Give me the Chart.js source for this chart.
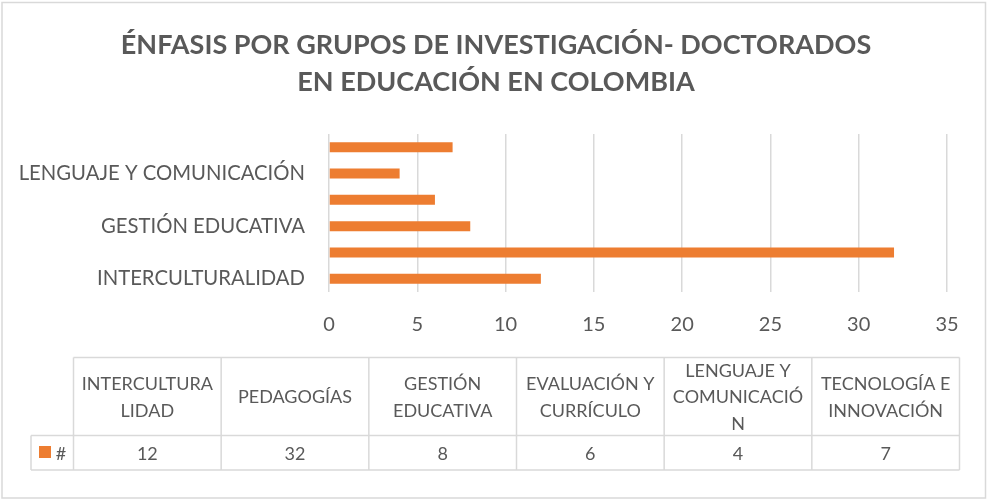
<!DOCTYPE html>
<html>
<head>
<meta charset="utf-8">
<script src="https://cdn.jsdelivr.net/npm/chart.js@4/dist/chart.umd.min.js"></script>
<style>
  html, body { margin: 0; padding: 0; background: #fff; }
  #c { display: block; }
</style>
</head>
<body>
<canvas id="c" width="987" height="500"></canvas>
<script>
// ---- data ----
const titleLines = ['ÉNFASIS POR GRUPOS DE INVESTIGACIÓN- DOCTORADOS', 'EN EDUCACIÓN EN COLOMBIA'];
const categories = ['INTERCULTURALIDAD', 'PEDAGOGÍAS', 'GESTIÓN EDUCATIVA', 'EVALUACIÓN Y CURRÍCULO', 'LENGUAJE Y COMUNICACIÓN', 'TECNOLOGÍA E INNOVACIÓN'];
const counts = [12, 32, 8, 6, 4, 7];
const seriesName = '#';
const tableHeaders = ['INTERCULTURA\nLIDAD', 'PEDAGOGÍAS', 'GESTIÓN\nEDUCATIVA', 'EVALUACIÓN Y\nCURRÍCULO', 'LENGUAJE Y\nCOMUNICACIÓ\nN', 'TECNOLOGÍA E\nINNOVACIÓN'];
const xMin = 0, xMax = 35, xStep = 5;

const TEXT = '#595959';
const GRID = '#d9d9d9';
const ORANGE = '#ED7D31';
const FONT = 'Lato';

const frame = {
  id: 'frame',
  beforeDraw(chart) {
    const ctx = chart.ctx;
    ctx.save();
    ctx.fillStyle = '#fff';
    ctx.fillRect(0, 0, chart.width, chart.height);
    ctx.strokeStyle = GRID;
    ctx.lineWidth = 1.5;
    ctx.strokeRect(2, 2.5, chart.width - 3.5, chart.height - 4.5);
    ctx.restore();
  },
  afterDraw(chart) {
    const ctx = chart.ctx;
    ctx.save();
    // title
    ctx.fillStyle = TEXT;
    ctx.font = 'bold 27px ' + FONT;
    ctx.textAlign = 'center';
    ctx.textBaseline = 'alphabetic';
    titleLines.forEach((t, i) => ctx.fillText(t, 496, 54 + i * 37));

    // data table
    const left = 73.5, right = 959.5, legLeft = 31;
    const top = 357.5, mid = 435.5, bottom = 470;
    const n = chart.data.labels.length;
    const cw = (right - left) / n;
    ctx.strokeStyle = GRID;
    ctx.lineWidth = 1.5;
    ctx.beginPath();
    ctx.moveTo(left, top); ctx.lineTo(right, top);
    ctx.moveTo(legLeft, mid); ctx.lineTo(right, mid);
    ctx.moveTo(legLeft, bottom); ctx.lineTo(right, bottom);
    ctx.moveTo(legLeft, mid); ctx.lineTo(legLeft, bottom);
    for (let i = 0; i <= n; i++) {
      const x = left + i * cw;
      ctx.moveTo(x, top); ctx.lineTo(x, bottom);
    }
    ctx.stroke();

    ctx.fillStyle = TEXT;
    ctx.font = '18px ' + FONT;
    ctx.textAlign = 'center';
    ctx.textBaseline = 'middle';
    const lh = 26.5;
    const ds = chart.data.datasets[0];
    for (let i = 0; i < n; i++) {
      const cx = left + (i + 0.5) * cw;
      const lines = tableHeaders[i].split('\n');
      const cy = (top + mid) / 2 + 1;
      lines.forEach((ln, j) => {
        ctx.fillText(ln, cx, cy + (j - (lines.length - 1) / 2) * lh);
      });
      ctx.fillText(String(ds.data[i]), cx, (mid + bottom) / 2 + 1);
    }
    // legend key
    ctx.fillStyle = ds.backgroundColor;
    ctx.fillRect(39, 446, 12, 12);
    ctx.fillStyle = TEXT;
    ctx.fillText(ds.label, 61, (mid + bottom) / 2 + 1);
    ctx.restore();
  }
};

new Chart(document.getElementById('c'), {
  type: 'bar',
  data: {
    labels: categories,
    datasets: [{
      label: seriesName,
      data: counts,
      backgroundColor: ORANGE,
      barPercentage: 0.38,
      categoryPercentage: 1.0
    }]
  },
  options: {
    indexAxis: 'y',
    responsive: false,
    animation: false,
    devicePixelRatio: 1,
    layout: { padding: { top: 134, bottom: 158, left: 0, right: 40 } },
    plugins: {
      legend: { display: false },
      title: { display: false },
      tooltip: { enabled: false }
    },
    scales: {
      x: {
        min: xMin, max: xMax,
        ticks: { stepSize: xStep, color: TEXT, font: { family: FONT, size: 20 }, padding: 21 },
        grid: { color: GRID, lineWidth: 1.5, drawTicks: false },
        border: { display: false },
        afterFit(s) { s.height = 50; }
      },
      y: {
        reverse: true,
        ticks: {
          color: TEXT,
          font: { family: FONT, size: 20.3 },
          padding: 24,
          autoSkip: false,
          callback(v, i) { return i % 2 === 0 ? this.getLabelForValue(v) : ''; }
        },
        grid: { display: false, drawTicks: false },
        border: { display: false },
        afterFit(s) { s.width = 329; }
      }
    }
  },
  plugins: [frame]
});
</script>
</body>
</html>
